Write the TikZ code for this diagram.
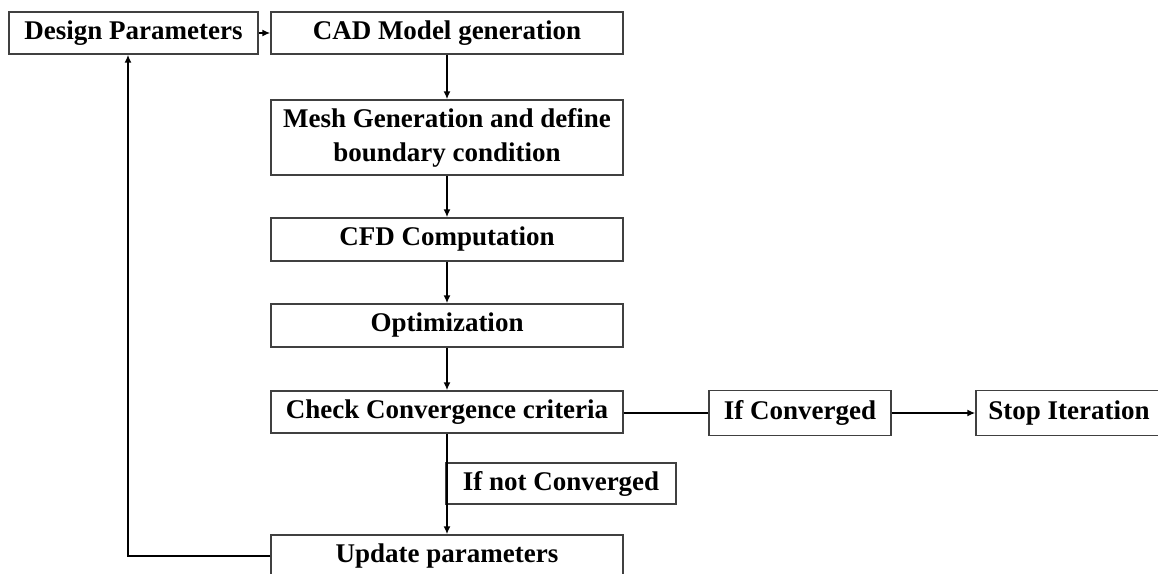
\documentclass[tikz,border=0pt]{standalone}
\usepackage{fontspec}
\setmainfont{Liberation Serif}
\usetikzlibrary{arrows.meta}
\begin{document}
\begin{tikzpicture}[x=1pt, y=-1pt, every node/.style={font=\fontsize{27}{34}\selectfont\bfseries},
  blk/.style={draw=black!75, line width=1.4pt, inner sep=0pt, align=center, minimum height=42pt},
  flow/.style={-{Latex[length=8pt,width=7pt]}, line width=2pt}]
\useasboundingbox (0,0) rectangle (1158,573);
\node[blk, minimum width=249pt] (design) at (133.5,33) {Design Parameters};
\node[blk, minimum width=352pt] (cad) at (447,33) {CAD Model generation};
\node[blk, minimum width=352pt, minimum height=75pt] (mesh) at (447,137.5) {Mesh Generation and define\\boundary condition};
\node[blk, minimum width=352pt, minimum height=43pt] (cfd) at (447,239.5) {CFD Computation};
\node[blk, minimum width=352pt, minimum height=43pt] (opt) at (447,325.5) {Optimization};
\node[blk, minimum width=352pt] (check) at (447,412) {Check Convergence criteria};
\node[blk, minimum width=182pt, minimum height=45pt] (conv) at (800,413) {If Converged};
\node[blk, minimum width=186pt, minimum height=45pt] (stop) at (1069,413) {Stop Iteration};
\node[blk, minimum width=230pt, minimum height=41pt] (notconv) at (561,483.5) {If not Converged};
\node[blk, minimum width=352pt, minimum height=41pt] (update) at (447,555.5) {Update parameters};
% main chain
\draw[flow] (design) -- (cad);
\draw[flow] (cad) -- (mesh);
\draw[flow] (mesh) -- (cfd);
\draw[flow] (cfd) -- (opt);
\draw[flow] (opt) -- (check);
\draw[flow] (check) -- (update);
% exit and loop back
\draw[line width=2pt] (check.east |- conv) -- (conv);
\draw[flow] (conv) -- (stop);
\draw[flow] (update.west) -| ([xshift=-5.5pt]design.south);
\end{tikzpicture}
\end{document}
